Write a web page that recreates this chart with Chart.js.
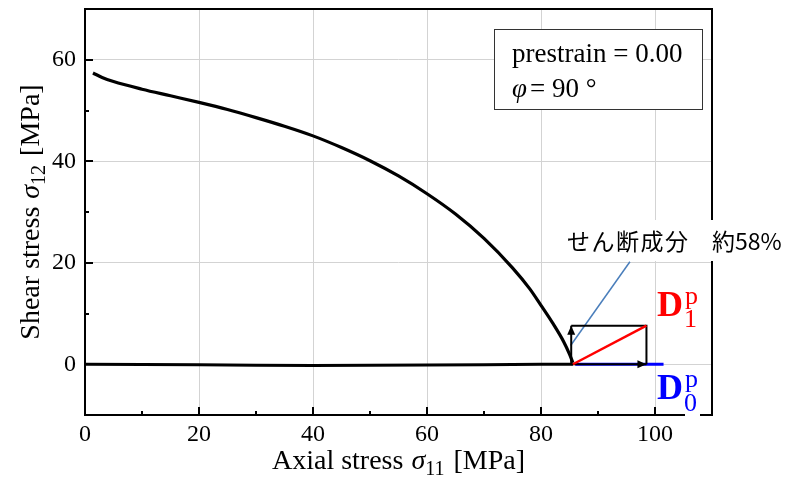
<!DOCTYPE html>
<html>
<head>
<meta charset="utf-8">
<script src="https://cdn.jsdelivr.net/npm/chart.js@4.4.0/dist/chart.umd.min.js"></script>
<style>
  html, body { margin: 0; padding: 0; background: #fff; }
  #chart { display: block; }
</style>
</head>
<body>
<canvas id="chart" width="785" height="479"></canvas>
<script>
// stress path: axial loading at zero shear, then the shear/axial yield curve
const axialPathX = [0, 10, 20, 30, 40, 50, 60, 70, 80, 85.6];
const axialPathY = [0, -0.05, -0.1, -0.2, -0.25, -0.2, -0.15, -0.1, 0, 0];

const curveX = [1.4, 3, 5, 10, 15, 20, 25, 30, 35, 40, 45, 50, 55, 60, 65, 70, 75, 78, 80, 82, 84, 85, 85.6];
const curveY = [57.4, 56.5, 55.7, 54.2, 52.9, 51.6, 50.2, 48.6, 46.9, 45.0, 42.7, 40.1, 37.1, 33.6, 29.6, 24.8, 19.0, 14.9, 11.6, 8.2, 4.4, 2.0, 0.3];

// decomposition of the plastic strain increment
const shearArrowX = [85.3, 85.3];
const shearArrowY = [0, 7.6];
const axialArrowX = [85.3, 98.5];
const axialArrowY = [0, 0];
const boxEdgeX = [85.3, 98.5, 98.5];
const boxEdgeY = [7.6, 7.6, 0];
const d1X = [85.6, 98.5];
const d1Y = [0, 7.6];
const d0X = [86, 101.5];
const d0Y = [0, 0];
const leaderX = [85.2, 95.6];
const leaderY = [3.7, 20.2];

const xTicks = [0, 20, 40, 60, 80, 100];
const xMinor = [10, 30, 50, 70, 90];
const yTicks = [0, 20, 40, 60];
const yMinor = [10, 30, 50];

const infoLine1 = 'prestrain = 0.00';
const infoPhi = 'φ';
const infoLine2 = '= 90 °';
const shearNote = 'せん断成分';
const shearShare = '約58%';

const SERIF = '"Liberation Serif", "Times New Roman", serif';
const JP = '"Noto Sans CJK JP", "Noto Sans", sans-serif';

const pts = (xs, ys) => xs.map((x, i) => ({ x: x, y: ys[i] }));

function line(data, color, width, order) {
  return {
    data: data,
    showLine: true,
    borderColor: color,
    backgroundColor: color,
    borderWidth: width,
    pointRadius: 0,
    order: order
  };
}

// draws text pieces (font, text, baseline shift) one after another
function drawPieces(ctx, pieces, x, y, align) {
  let total = 0;
  pieces.forEach(p => { ctx.font = p.font; total += ctx.measureText(p.text).width + (p.gap || 0); });
  let cx = align === 'center' ? x - total / 2 : x;
  ctx.textAlign = 'left';
  ctx.textBaseline = 'alphabetic';
  pieces.forEach(p => {
    ctx.font = p.font;
    ctx.fillText(p.text, cx, y + (p.dy || 0));
    cx += ctx.measureText(p.text).width + (p.gap || 0);
  });
}

function arrowHead(ctx, x0, y0, x1, y1) {
  const a = Math.atan2(y1 - y0, x1 - x0);
  const len = 9, half = 4;
  ctx.beginPath();
  ctx.moveTo(x1, y1);
  ctx.lineTo(x1 - len * Math.cos(a) + half * Math.sin(a), y1 - len * Math.sin(a) - half * Math.cos(a));
  ctx.lineTo(x1 - len * Math.cos(a) - half * Math.sin(a), y1 - len * Math.sin(a) + half * Math.cos(a));
  ctx.closePath();
  ctx.fill();
}

function dLabel(ctx, x, base, color, sub, supBase, subBase) {
  ctx.fillStyle = color;
  ctx.textAlign = 'left';
  ctx.textBaseline = 'alphabetic';
  ctx.font = 'bold 36px ' + SERIF;
  ctx.fillText('D', x, base);
  const w = ctx.measureText('D').width;
  ctx.font = '26px ' + SERIF;
  ctx.fillText('p', x + w + 2, supBase);
  ctx.fillText(sub, x + w + 1, subBase);
}

function titlePieces(name, sub) {
  return [
    { text: name + ' ', font: '28px ' + SERIF, gap: 1 },
    { text: 'σ', font: 'italic 28px ' + SERIF },
    { text: sub, font: '20px ' + SERIF, dy: 6, gap: 2 },
    { text: ' [MPa]', font: '28px ' + SERIF }
  ];
}

const decorations = {
  id: 'decorations',
  afterDatasetsDraw(chart) {
    const ctx = chart.ctx;
    const a = chart.chartArea;
    const xs = chart.scales.x, ys = chart.scales.y;
    ctx.save();

    // arrowheads on the two component arrows
    ctx.fillStyle = '#000';
    [[shearArrowX, shearArrowY], [axialArrowX, axialArrowY]].forEach(([ax, ay]) => {
      const n = ax.length;
      arrowHead(ctx,
        xs.getPixelForValue(ax[n - 2]), ys.getPixelForValue(ay[n - 2]),
        xs.getPixelForValue(ax[n - 1]), ys.getPixelForValue(ay[n - 1]));
    });

    // frame
    ctx.strokeStyle = '#000';
    ctx.lineWidth = 2;
    ctx.strokeRect(a.left, a.top, a.right - a.left, a.bottom - a.top);

    // inward ticks
    ctx.beginPath();
    xTicks.concat(xMinor).forEach(v => {
      const px = Math.round(xs.getPixelForValue(v));
      const len = xTicks.includes(v) ? 8 : 4;
      ctx.moveTo(px, a.bottom); ctx.lineTo(px, a.bottom - len);
    });
    yTicks.concat(yMinor).forEach(v => {
      const py = Math.round(ys.getPixelForValue(v));
      const len = yTicks.includes(v) ? 8 : 4;
      ctx.moveTo(a.left, py); ctx.lineTo(a.left + len, py);
    });
    ctx.stroke();

    // axis titles
    ctx.fillStyle = '#000';
    drawPieces(ctx, titlePieces('Axial stress', '11'), (a.left + a.right) / 2, 469, 'center');
    ctx.save();
    ctx.translate(39, (a.top + a.bottom) / 2);
    ctx.rotate(-Math.PI / 2);
    drawPieces(ctx, titlePieces('Shear stress', '12'), 0, 0, 'center');
    ctx.restore();

    // parameter box
    ctx.fillStyle = '#fff';
    ctx.fillRect(494, 29, 208, 80);
    ctx.strokeStyle = '#333';
    ctx.lineWidth = 1;
    ctx.strokeRect(494.5, 29.5, 208, 80);
    ctx.fillStyle = '#000';
    ctx.textAlign = 'left';
    ctx.textBaseline = 'alphabetic';
    ctx.font = '27px ' + SERIF;
    ctx.fillText(infoLine1, 512, 62);
    ctx.font = 'italic 27px ' + SERIF;
    ctx.fillText(infoPhi, 512, 97);
    const phiW = ctx.measureText(infoPhi).width;
    ctx.font = '27px ' + SERIF;
    ctx.fillText(infoLine2, 512 + phiW + 3, 97);

    // shear share note
    ctx.fillStyle = '#fff';
    ctx.fillRect(556, 220, 240, 41);
    ctx.fillStyle = '#000';
    ctx.font = '23px ' + JP;
    ctx.textBaseline = 'middle';
    ctx.letterSpacing = '1.5px';
    ctx.fillText(shearNote, 567, 241);
    ctx.letterSpacing = '0px';
    ctx.fillText(shearShare, 712, 241);

    // component labels
    dLabel(ctx, 657, 316, '#ff0000', '1', 304, 327);
    ctx.fillStyle = '#fff';
    ctx.fillRect(685, 398, 15, 20);
    dLabel(ctx, 657, 399, '#0000ff', '0', 387, 411);

    ctx.restore();
  }
};

new Chart(document.getElementById('chart'), {
  type: 'scatter',
  data: {
    datasets: [
      line(pts(axialPathX, axialPathY), '#000', 3.2, 5),
      Object.assign(line(pts(curveX, curveY), '#000', 3.2, 5), { cubicInterpolationMode: 'monotone' }),
      line(pts(d0X, d0Y), '#0000ff', 3, 9),
      line(pts(leaderX, leaderY), '#4a7ebb', 1.5, 4),
      line(pts(boxEdgeX, boxEdgeY), '#000', 2, 3),
      line(pts(shearArrowX, shearArrowY), '#000', 2, 3),
      line(pts(axialArrowX, axialArrowY), '#000', 2, 3),
      line(pts(d1X, d1Y), '#ff0000', 2.5, 2)
    ]
  },
  options: {
    responsive: false,
    animation: false,
    devicePixelRatio: 1,
    layout: { padding: { top: 9, right: 73, left: 0, bottom: 0 } },
    plugins: { legend: { display: false }, tooltip: { enabled: false } },
    scales: {
      x: {
        type: 'linear',
        min: 0,
        max: 110,
        afterBuildTicks: s => { s.ticks = xTicks.map(v => ({ value: v })); },
        afterFit: s => { s.height = 64; s.paddingLeft = 0; s.paddingRight = 0; },
        grid: { color: '#d3d3d3', lineWidth: 1, drawTicks: false },
        border: { display: false },
        ticks: { padding: 5, color: '#000', font: { family: SERIF, size: 24 }, maxRotation: 0 }
      },
      y: {
        type: 'linear',
        min: -10,
        max: 70,
        afterBuildTicks: s => { s.ticks = yTicks.map(v => ({ value: v })); },
        afterFit: s => { s.width = 85; s.paddingTop = 0; s.paddingBottom = 0; },
        grid: { color: '#d3d3d3', lineWidth: 1, drawTicks: false },
        border: { display: false },
        ticks: { padding: 9, color: '#000', font: { family: SERIF, size: 24 } }
      }
    }
  },
  plugins: [decorations]
});
</script>
</body>
</html>
